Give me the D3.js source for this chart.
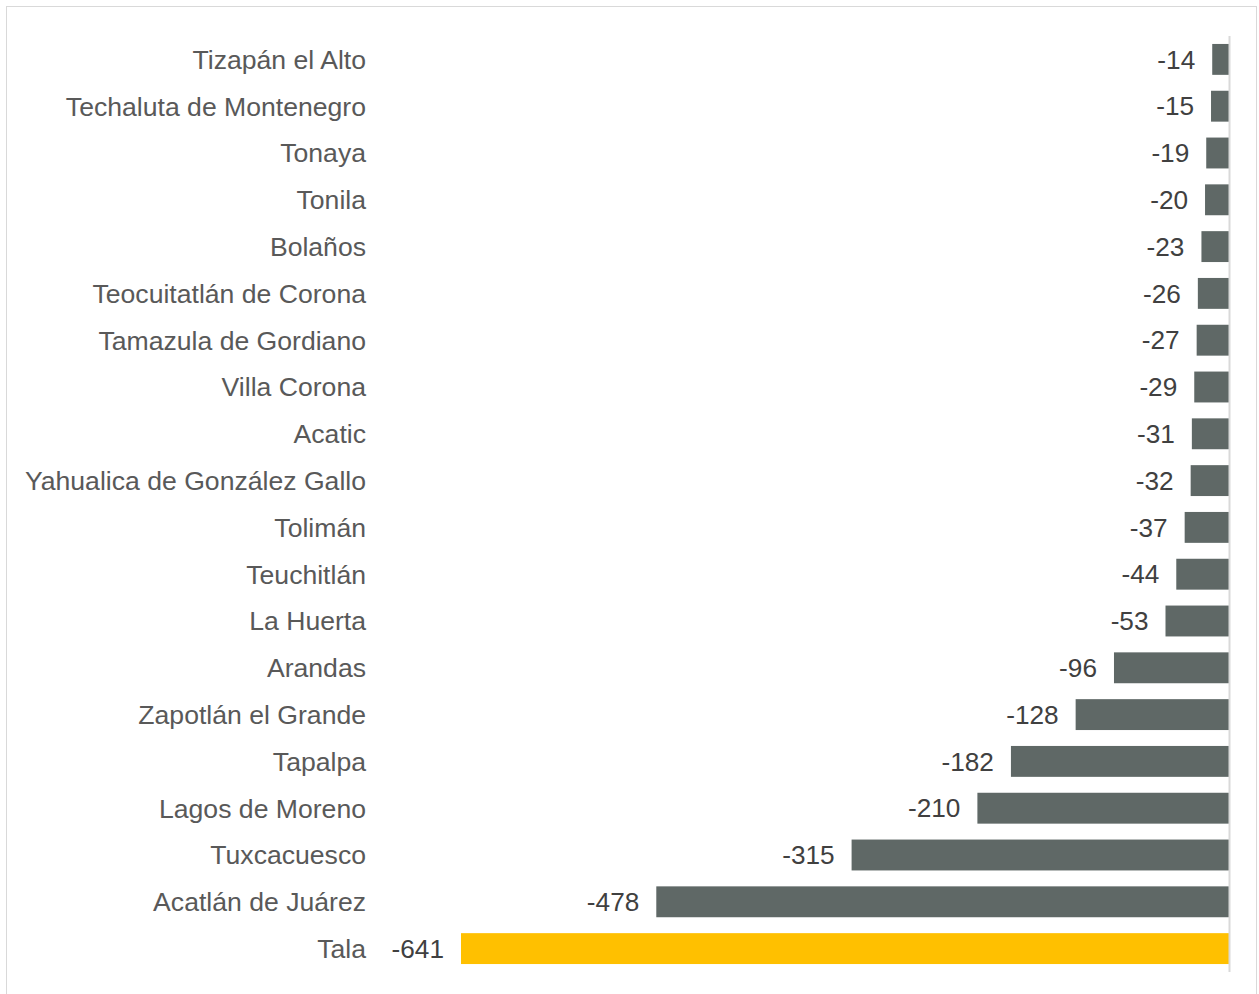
<!DOCTYPE html>
<html><head><meta charset="utf-8">
<script src="https://cdn.jsdelivr.net/npm/d3@7"></script>
<style>body{margin:0;background:#fff;}svg{display:block;}</style>
</head><body>
<svg id="c" width="1259" height="994"></svg>
<script>
const categories = ["Tizapán el Alto","Techaluta de Montenegro","Tonaya","Tonila","Bolaños","Teocuitatlán de Corona","Tamazula de Gordiano","Villa Corona","Acatic","Yahualica de González Gallo","Tolimán","Teuchitlán","La Huerta","Arandas","Zapotlán el Grande","Tapalpa","Lagos de Moreno","Tuxcacuesco","Acatlán de Juárez","Tala"];
const values = [-14,-15,-19,-20,-23,-26,-27,-29,-31,-32,-37,-44,-53,-96,-128,-182,-210,-315,-478,-641];
const highlight = ["Tala"];

const svg = d3.select("#c");
svg.append("rect").attr("x",6.5).attr("y",6.5).attr("width",1250).attr("height",1000)
  .attr("fill","#fff").attr("stroke","#d9d9d9").attr("stroke-width",1);

const x = d3.scaleLinear().domain([-641,0]).range([461,1229]);
const y = d3.scaleBand().domain(categories).range([36,972]).paddingInner(0.34).paddingOuter(0.17);

const g = svg.append("g");
g.selectAll("rect.bar").data(categories).join("rect").attr("class","bar")
  .attr("x",(d,i)=>x(values[i])).attr("width",(d,i)=>x(0)-x(values[i]))
  .attr("y",d=>y(d)).attr("height",y.bandwidth())
  .attr("fill",d=>highlight.includes(d)?"#ffc000":"#5f6866");

g.append("line").attr("x1",1229.5).attr("x2",1229.5).attr("y1",36).attr("y2",972)
  .attr("stroke","#d9d9d9").attr("stroke-width",2);

const font = "'Liberation Sans', Arial, sans-serif";
g.selectAll("text.cat").data(categories).join("text").attr("class","cat")
  .attr("x",366).attr("y",d=>y(d)+y.bandwidth()/2).attr("dy","0.35em")
  .attr("text-anchor","end").attr("font-family",font).attr("font-size",26.6)
  .attr("fill","#595959").text(d=>d);

g.selectAll("text.val").data(categories).join("text").attr("class","val")
  .attr("x",(d,i)=>x(values[i])-17).attr("y",d=>y(d)+y.bandwidth()/2).attr("dy","0.35em")
  .attr("text-anchor","end").attr("font-family",font).attr("font-size",26.2)
  .attr("fill","#404040").text((d,i)=>values[i]);
</script>
</body></html>
